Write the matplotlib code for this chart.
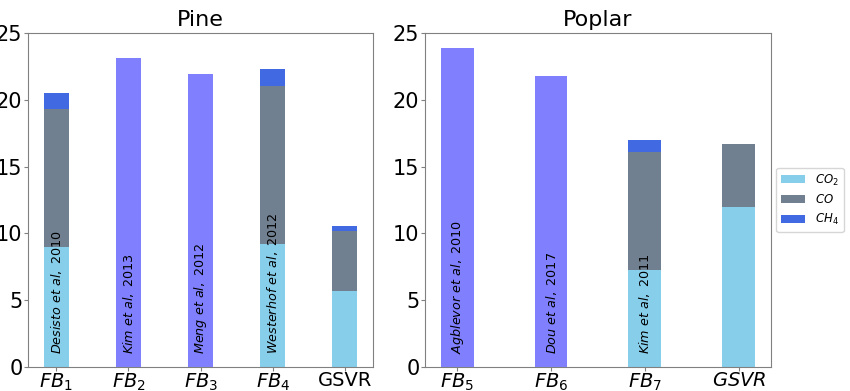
import numpy as np
import matplotlib.pyplot as plt

# Pine
pine_labels = [r'$FB_1$', r'$FB_2$', r'$FB_3$', r'$FB_4$', 'GSVR']
pine_co2 = [8.95, 0, 0, 9.2, 5.7]
pine_co = [10.35, 0, 0, 11.8, 4.45]
pine_ch4 = [1.2, 0, 0, 1.33, 0.4]
pine_total = [0, 23.15, 21.9, 0, 0]
pine_refs = [r'$Desisto\ et\ al,$ 2010', r'$Kim\ et\ al,$ 2013',
             r'$Meng\ et\ al,$ 2012', r'$Westerhof\ et\ al,$ 2012', '']

# Poplar
poplar_labels = [r'$FB_5$', r'$FB_6$', r'$FB_7$', r'$GSVR$']
poplar_co2 = [0, 0, 7.25, 11.95]
poplar_co = [0, 0, 8.85, 4.75]
poplar_ch4 = [0, 0, 0.88, 0]
poplar_total = [23.9, 21.75, 0, 0]
poplar_refs = [r'$Agblevor\ et\ al,$ 2010', r'$Dou\ et\ al,$ 2017',
               r'$Kim\ et\ al,$ 2011', '']

c_co2 = '#87CEEB'
c_co = '#708090'
c_ch4 = '#4169E1'
c_tot = '#8080FF'
width = 0.35


def draw(ax, labels, co2, co, ch4, total, refs, title):
    x = np.arange(len(labels))
    co2 = np.array(co2)
    co = np.array(co)
    ch4 = np.array(ch4)
    ax.bar(x, co2, width, color=c_co2, label=r'$CO_2$')
    ax.bar(x, co, width, bottom=co2, color=c_co, label=r'$CO$')
    ax.bar(x, ch4, width, bottom=co2 + co, color=c_ch4, label=r'$CH_4$')
    ax.bar(x, total, width, color=c_tot)
    for xi, r in zip(x, refs):
        if r:
            ax.text(xi, 1.0, r, rotation=90, ha='center', va='bottom', fontsize=9.2)
    ax.set_xticks(x)
    ax.set_xticklabels(labels, fontsize=14)
    ax.set_ylim(0, 25)
    ax.set_yticks([0, 5, 10, 15, 20, 25])
    ax.tick_params(axis='y', labelsize=15, color='gray', length=3, pad=1)
    ax.tick_params(axis='x', color='gray', length=3, pad=0)
    for s in ax.spines.values():
        s.set_color('gray')
    ax.set_title(title, fontsize=16, pad=5)


fig = plt.figure(figsize=(8.5, 3.91), dpi=100)
ax1 = fig.add_axes([0.033, 0.061, 0.406, 0.855])
ax2 = fig.add_axes([0.5, 0.061, 0.407, 0.855])

draw(ax1, pine_labels, pine_co2, pine_co, pine_ch4, pine_total, pine_refs, 'Pine')
draw(ax2, poplar_labels, poplar_co2, poplar_co, poplar_ch4, poplar_total, poplar_refs, 'Poplar')

ax2.legend(loc='center left', bbox_to_anchor=(1.005, 0.5), fontsize=8.5,
           handlelength=2.0, borderpad=0.4, handletextpad=0.9, borderaxespad=0.3)

fig.savefig('out.png', dpi=100)
